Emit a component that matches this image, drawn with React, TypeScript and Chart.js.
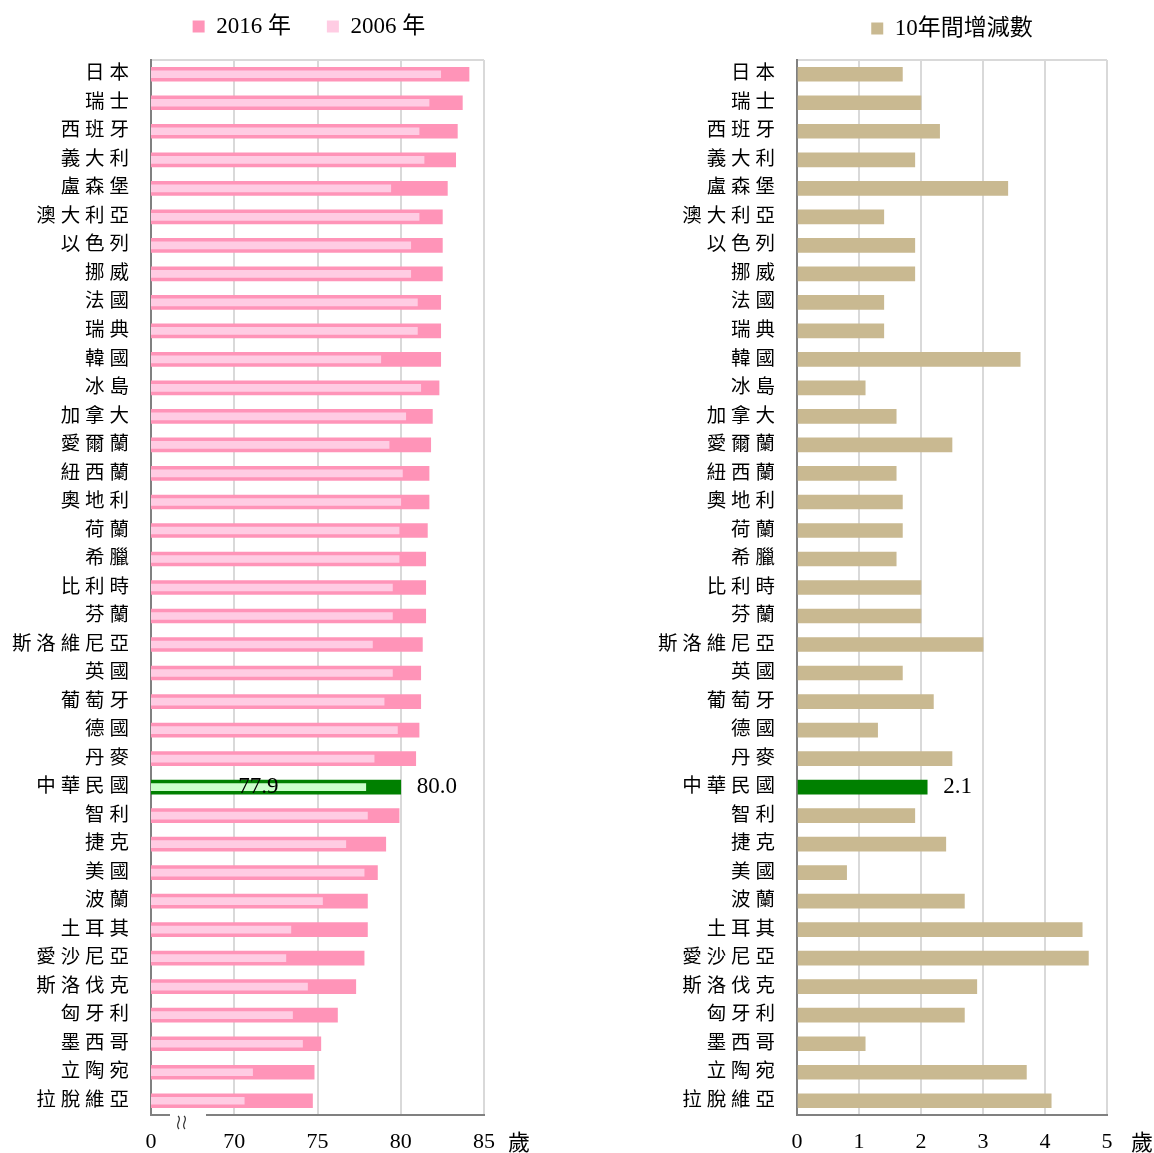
import React, { useEffect, useRef } from 'react';
import { Chart, registerables } from 'chart.js';
Chart.register(...registerables);

const countries = ['日本','瑞士','西班牙','義大利','盧森堡','澳大利亞','以色列','挪威','法國','瑞典','韓國','冰島','加拿大','愛爾蘭','紐西蘭','奧地利','荷蘭','希臘','比利時','芬蘭','斯洛維尼亞','英國','葡萄牙','德國','丹麥','中華民國','智利','捷克','美國','波蘭','土耳其','愛沙尼亞','斯洛伐克','匈牙利','墨西哥','立陶宛','拉脫維亞'];
const life2016 = [84.1,83.7,83.4,83.3,82.8,82.5,82.5,82.5,82.4,82.4,82.4,82.3,81.9,81.8,81.7,81.7,81.6,81.5,81.5,81.5,81.3,81.2,81.2,81.1,80.9,80.0,79.9,79.1,78.6,78.0,78.0,77.8,77.3,76.2,75.2,74.8,74.7];
const life2006 = [82.4,81.7,81.1,81.4,79.4,81.1,80.6,80.6,81.0,81.0,78.8,81.2,80.3,79.3,80.1,80.0,79.9,79.9,79.5,79.5,78.3,79.5,79.0,79.8,78.4,77.9,78.0,76.7,77.8,75.3,73.4,73.1,74.4,73.5,74.1,71.1,70.6];
const change10y = [1.7,2.0,2.3,1.9,3.4,1.4,1.9,1.9,1.4,1.4,3.6,1.1,1.6,2.5,1.6,1.7,1.7,1.6,2.0,2.0,3.0,1.7,2.2,1.3,2.5,2.1,1.9,2.4,0.8,2.7,4.6,4.7,2.9,2.7,1.1,3.7,4.1];
const leftTicks = [65, 70, 75, 80, 85];
const leftTickLabels = ['0', '70', '75', '80', '85'];
const rightTicks = [0, 1, 2, 3, 4, 5];
const unitLabel = '歲';
const highlight = '中華民國';

const FONT = "'Liberation Serif', 'Noto Sans CJK TC', serif";
const PINK = '#FF94B8';
const LIGHT_PINK = '#FFCCE3';
const GREEN = '#008000';
const LIGHT_GREEN = '#CCFFCC';
const TAN = '#C9B991';
const GRID = '#D9D9D9';
const AXIS = '#808080';

const hl = countries.indexOf(highlight);
const spaced = (s: string) => s.split('').join(' ');

function commonY(width: number) {
  return {
    type: 'category' as const,
    grid: {
      display: true,
      drawTicks: false,
      lineWidth: 2,
      color: (c: any) => (c.index === 0 ? GRID : 'rgba(0,0,0,0)'),
    },
    border: { display: true, color: AXIS, width: 2 },
    ticks: {
      color: '#000',
      padding: 22,
      font: { size: 19.5, family: FONT },
      callback: (_v: any, i: number) => spaced(countries[i]),
    },
    afterFit: (s: any) => { s.width = width; },
  };
}

const dummyTop = {
  type: 'linear' as const,
  position: 'top' as const,
  display: true,
  grid: { display: false, drawTicks: false },
  border: { display: false },
  ticks: { display: false },
  afterFit: (s: any) => { s.height = 12; },
};

const unitPlugin = {
  id: 'unitPlugin',
  afterDraw(chart: any) {
    const { ctx, chartArea } = chart;
    ctx.save();
    ctx.fillStyle = '#000';
    ctx.font = `22px ${FONT}`;
    ctx.textAlign = 'center';
    ctx.textBaseline = 'middle';
    ctx.fillText(unitLabel, chartArea.right + 35, chartArea.bottom + 29);
    ctx.restore();
  },
};

const breakPlugin = {
  id: 'breakPlugin',
  afterDraw(chart: any) {
    const { ctx, chartArea } = chart;
    const b = chartArea.bottom;
    ctx.save();
    ctx.fillStyle = '#fff';
    ctx.fillRect(170, b - 3, 36, 7);
    ctx.strokeStyle = '#333';
    ctx.lineWidth = 1.2;
    [0, 6].forEach((dx) => {
      ctx.beginPath();
      ctx.moveTo(178 + dx, b + 1);
      ctx.bezierCurveTo(183 + dx, b + 5, 174 + dx, b + 9, 179 + dx, b + 14);
      ctx.stroke();
    });
    ctx.restore();
  },
};

const leftLabelPlugin = {
  id: 'leftLabelPlugin',
  afterDatasetsDraw(chart: any) {
    const { ctx } = chart;
    const xs = chart.scales.x;
    const y = chart.scales.y.getPixelForValue(hl);
    const x0 = xs.getPixelForValue(leftTicks[0]);
    const x06 = xs.getPixelForValue(life2006[hl]);
    const x16 = xs.getPixelForValue(life2016[hl]);
    ctx.save();
    ctx.fillStyle = '#000';
    ctx.font = `23px ${FONT}`;
    ctx.textBaseline = 'middle';
    ctx.textAlign = 'center';
    ctx.fillText(life2006[hl].toFixed(1), (x0 + x06) / 2, y);
    ctx.textAlign = 'left';
    ctx.fillText(life2016[hl].toFixed(1), x16 + 16, y);
    ctx.restore();
  },
};

const rightLabelPlugin = {
  id: 'rightLabelPlugin',
  afterDatasetsDraw(chart: any) {
    const { ctx } = chart;
    const y = chart.scales.y.getPixelForValue(hl);
    const x = chart.scales.x.getPixelForValue(change10y[hl]);
    ctx.save();
    ctx.fillStyle = '#000';
    ctx.font = `23px ${FONT}`;
    ctx.textBaseline = 'middle';
    ctx.textAlign = 'left';
    ctx.fillText(change10y[hl].toFixed(1), x + 16, y);
    ctx.restore();
  },
};

function LeftChart() {
  const ref = useRef<HTMLCanvasElement>(null);
  useEffect(() => {
    const chart = new Chart(ref.current!, {
      type: 'bar',
      data: {
        labels: countries,
        datasets: [
          {
            label: '2006 年',
            data: life2006,
            backgroundColor: (c: any) => (c.dataIndex === hl ? LIGHT_GREEN : LIGHT_PINK),
            barThickness: 7,
            grouped: false,
          } as any,
          {
            label: '2016 年',
            data: life2016,
            backgroundColor: (c: any) => (c.dataIndex === hl ? GREEN : PINK),
            barThickness: 14,
            grouped: false,
          } as any,
        ],
      },
      options: {
        indexAxis: 'y',
        responsive: false,
        animation: false,
        events: [],
        layout: { padding: { top: 2, left: 0, right: 76, bottom: 0 } },
        plugins: {
          tooltip: { enabled: false },
          legend: {
            position: 'top',
            fullSize: false,
            labels: {
              boxWidth: 12,
              boxHeight: 12,
              padding: 13,
              color: '#000',
              font: { size: 23, family: FONT },
              generateLabels: (ch: any) => {
                const items = Chart.defaults.plugins.legend.labels.generateLabels(ch);
                items.sort((a: any, b: any) => b.datasetIndex - a.datasetIndex);
                return items.map((it: any, i: number) => ({ ...it, text: i === 0 ? it.text + '    ' : it.text + '   ' }));
              },
            },
          },
        },
        scales: {
          x: {
            type: 'linear',
            min: leftTicks[0],
            max: leftTicks[leftTicks.length - 1],
            afterBuildTicks: (s: any) => { s.ticks = leftTicks.map((v) => ({ value: v })); },
            grid: { color: GRID, lineWidth: 2, drawTicks: false },
            border: { display: true, color: AXIS, width: 2 },
            ticks: {
              color: '#000',
              padding: 14,
              font: { size: 22, family: FONT },
              callback: (v: any) => leftTickLabels[leftTicks.indexOf(Number(v))],
            },
            afterFit: (s: any) => { s.height = 38; },
          },
          xTop: dummyTop,
          y: commonY(151),
        } as any,
      },
      plugins: [leftLabelPlugin, unitPlugin, breakPlugin],
    });
    return () => chart.destroy();
  }, []);
  return <canvas ref={ref} width={560} height={1153} style={{ position: 'absolute', left: 0, top: 0 }} />;
}

function RightChart() {
  const ref = useRef<HTMLCanvasElement>(null);
  useEffect(() => {
    const chart = new Chart(ref.current!, {
      type: 'bar',
      data: {
        labels: countries,
        datasets: [
          {
            label: '10年間增減數',
            data: change10y,
            backgroundColor: (c: any) => (c.dataIndex === hl ? GREEN : TAN),
            barThickness: 14,
          } as any,
        ],
      },
      options: {
        indexAxis: 'y',
        responsive: false,
        animation: false,
        events: [],
        layout: { padding: { top: 4, left: 0, right: 47, bottom: 0 } },
        plugins: {
          tooltip: { enabled: false },
          legend: {
            position: 'top',
            fullSize: false,
            labels: {
              boxWidth: 12,
              boxHeight: 12,
              padding: 13,
              color: '#000',
              font: { size: 23, family: FONT },
            },
          },
        },
        scales: {
          x: {
            type: 'linear',
            min: rightTicks[0],
            max: rightTicks[rightTicks.length - 1],
            afterBuildTicks: (s: any) => { s.ticks = rightTicks.map((v) => ({ value: v })); },
            grid: { color: GRID, lineWidth: 2, drawTicks: false },
            border: { display: true, color: AXIS, width: 2 },
            ticks: {
              color: '#000',
              padding: 14,
              font: { size: 22, family: FONT },
            },
            afterFit: (s: any) => { s.height = 38; },
          },
          xTop: { ...dummyTop, afterFit: (s: any) => { s.height = 10; } },
          y: commonY(237),
        } as any,
      },
      plugins: [rightLabelPlugin, unitPlugin],
    });
    return () => chart.destroy();
  }, []);
  return <canvas ref={ref} width={594} height={1153} style={{ position: 'absolute', left: 560, top: 0 }} />;
}

export default function App() {
  return (
    <div style={{ position: 'absolute', left: 0, top: 0, width: 1154, height: 1153, background: '#fff' }}>
      <LeftChart />
      <RightChart />
    </div>
  );
}
